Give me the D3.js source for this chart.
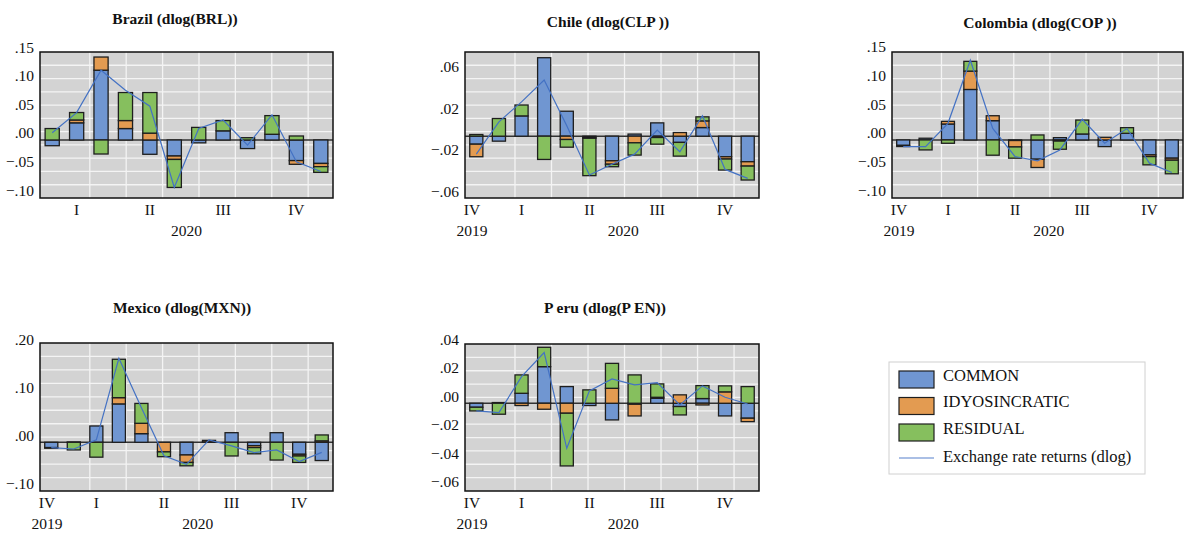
<!DOCTYPE html>
<html>
<head>
<meta charset="utf-8">
<script src="https://cdn.jsdelivr.net/npm/d3@7"></script>
<style>
  body { margin: 0; background: #fff; }
  svg { display: block; }
  text { font-family: "Liberation Serif", "DejaVu Serif", serif; fill: #111; }
</style>
</head>
<body>
<div id="chart"></div>
<script>
// monthly observations
const months13 = ["2019M11","2019M12","2020M01","2020M02","2020M03","2020M04","2020M05",
                  "2020M06","2020M07","2020M08","2020M09","2020M10","2020M11"]
const months12 = months13.slice(1)

// quarter / year labels (index = observation)
const qLabels12 = [["I",1],["II",4],["III",7],["IV",10]]
const qLabels13 = [["IV",0],["I",2],["II",5],["III",8],["IV",11]]
const yLabels12 = [["2020",0,11]]
const yLabels13 = [["2019",0,0],["2020",1,12]]

// decomposition of dlog exchange rate
const brlCommon = [-0.010, 0.030, 0.122, 0.020, -0.025, -0.028, -0.005, 0.016, -0.015, 0.010, -0.036, -0.041]
const brlIdio   = [0, 0.005, 0.023, 0.014, 0.012, -0.006, 0, 0, 0, 0, -0.0065, -0.0056]
const brlResid  = [0.020, 0.013, -0.0245, 0.049, 0.071, -0.049, 0.022, 0.018, 0.004, 0.0326, 0.007, -0.010]
const brlLine   = [0.0128, 0.0478, 0.122, 0.087, 0.059, -0.083, 0.020, 0.035, -0.009, 0.044, -0.038, -0.055]

const clpCommon = [-0.0077, -0.0048, 0.0195, 0.0755, 0.024, -0.001, -0.0237, 0.002, 0.0128, -0.006, 0.0083, -0.0198, -0.0246]
const clpIdio   = [-0.0121, 0, 0, 0, -0.0032, -0.001, -0.0033, -0.0064, -0.0013, 0.0035, 0.0064, -0.0022, -0.0042]
const clpResid  = [0.0016, 0.017, 0.0105, -0.0224, -0.0074, -0.036, -0.0024, -0.0118, -0.0064, -0.0132, 0.0039, -0.0106, -0.0134]
const clpLine   = [-0.0173, 0.0138, 0.033, 0.054, 0.010, -0.0374, -0.027, -0.0173, 0.0058, -0.015, 0.0195, -0.032, -0.0406]

const copCommon = [-0.0095, 0.003, 0.0278, 0.088, 0.0336, -0.001, -0.0336, 0.004, 0.0104, -0.0116, 0.0116, -0.026, -0.0318]
const copIdio   = [-0.002, 0, 0.0046, 0.032, 0.0086, -0.0112, -0.0144, -0.002, 0, 0.0046, 0, -0.003, -0.0035]
const copResid  = [0, -0.0174, -0.0058, 0.017, -0.0266, -0.0196, 0.0087, -0.0142, 0.0243, 0, 0.0098, -0.0144, -0.0237]
const copLine   = [-0.0116, -0.0116, 0.029, 0.139, 0.020, -0.029, -0.0365, -0.0174, 0.036, -0.0058, 0.020, -0.0405, -0.0567]

const mxnCommon = [-0.011, 0.0005, 0.034, 0.080, 0.018, 0, -0.0264, 0.001, 0.020, -0.007, 0.020, -0.025, -0.038]
const mxnIdio   = [-0.0014, 0, 0, 0.013, 0.0216, -0.020, -0.0156, 0.003, 0, -0.004, 0, -0.0035, 0.003]
const mxnResid  = [0, -0.016, -0.031, 0.080, 0.0414, -0.010, -0.007, 0, -0.0285, -0.013, -0.037, -0.0135, 0.0123]
const mxnLine   = [-0.011, -0.014, 0.005, 0.175, 0.072, -0.028, -0.046, 0.005, -0.0076, -0.0215, -0.016, -0.040, -0.021]

const penCommon = [-0.0028, 0.0005, 0.007, 0.0257, 0.0117, -0.0016, -0.0117, -0.0007, 0.0035, -0.0023, 0.0033, -0.0089, -0.0105]
const penIdio   = [0, 0, -0.0016, -0.0042, -0.007, 0, 0.0105, -0.0082, 0.0007, 0.0059, -0.0012, 0.008, -0.0024]
const penResid  = [-0.0026, -0.0077, 0.0129, 0.0136, -0.037, 0.0094, 0.0175, 0.0199, 0.0094, -0.0059, 0.0091, 0.0042, 0.0117]
const penLine   = [-0.0054, -0.0066, 0.0187, 0.0356, -0.0316, 0.0087, 0.0171, 0.0129, 0.0145, -0.0012, 0.0122, 0.0042, -0.0005]

// y tick labels
const ticksBRL = [0.15, 0.10, 0.05, 0.00, -0.05, -0.10]
const ticksCLP = [0.06, 0.02, -0.02, -0.06]
const ticksCOP = [0.15, 0.10, 0.05, 0.00, -0.05, -0.10]
const ticksMXN = [0.20, 0.10, 0.00, -0.10]
const ticksPEN = [0.04, 0.02, 0.00, -0.02, -0.04, -0.06]

const legendNames = ["COMMON", "IDYOSINCRATIC", "RESIDUAL"]
const lineName = "Exchange rate returns (dlog)"

const keys = ["common", "idio", "resid"]
const colors = { common: "#7096d1", idio: "#e39b51", resid: "#86bf5e" }

const panels = [
    { title: "Brazil (dlog(BRL))", months: months12, common: brlCommon, idio: brlIdio, resid: brlResid, line: brlLine,
      ticks: ticksBRL, q: qLabels12, yr: yLabels12,
      left: 40, right: 333, top: 52, bottom: 198, domain: [-0.1014, 0.1538], tx: 175, ty: 18 },
    { title: "Chile (dlog(CLP ))", months: months13, common: clpCommon, idio: clpIdio, resid: clpResid, line: clpLine,
      ticks: ticksCLP, q: qLabels13, yr: yLabels13,
      left: 465, right: 759, top: 52, bottom: 198, domain: [-0.0595, 0.081], tx: 608, ty: 21 },
    { title: "Colombia (dlog(COP ))", months: months13, common: copCommon, idio: copIdio, resid: copResid, line: copLine,
      ticks: ticksCOP, q: qLabels13, yr: yLabels13,
      left: 892, right: 1183, top: 52, bottom: 198, domain: [-0.1012, 0.1533], tx: 1040, ty: 22 },
    { title: "Mexico (dlog(MXN))", months: months13, common: mxnCommon, idio: mxnIdio, resid: mxnResid, line: mxnLine,
      ticks: ticksMXN, q: qLabels13, yr: yLabels13,
      left: 40, right: 333, top: 343, bottom: 491, domain: [-0.1015, 0.2069], tx: 182, ty: 307 },
    { title: "P eru (dlog(P EN))", months: months13, common: penCommon, idio: penIdio, resid: penResid, line: penLine,
      ticks: ticksPEN, q: qLabels13, yr: yLabels13,
      left: 465, right: 759, top: 344, bottom: 491, domain: [-0.0616, 0.0416], tx: 605, ty: 307 }
]

const width = 1184
const height = 535

const svg = d3.select("#chart")
    .append("svg")
    .attr("width", width)
    .attr("height", height)

const fmt = v => d3.format(".2f")(v).replace("0.", ".")

panels.forEach(p => {
    const g = svg.append("g")
    const w = p.right - p.left
    const h = p.bottom - p.top

    const x = d3.scaleBand()
        .domain(p.months)
        .range([p.left, p.right])
        .paddingInner(0.42)
        .paddingOuter(0.21)

    const y = d3.scaleLinear()
        .domain(p.domain)
        .range([p.bottom, p.top])

    const rows = p.months.map((m, i) => ({ month: m, common: p.common[i], idio: p.idio[i], resid: p.resid[i] }))
    const series = d3.stack().keys(keys).offset(d3.stackOffsetDiverging)(rows)

    // background
    g.append("rect")
        .attr("x", p.left).attr("y", p.top)
        .attr("width", w).attr("height", h)
        .attr("fill", "#d3d3d3")

    // grid
    const gy = d3.range(1, 11).map(k => p.top + k * h / 11)
    g.selectAll(".hg").data(gy).enter().append("line")
        .attr("x1", p.left).attr("x2", p.right)
        .attr("y1", d => d).attr("y2", d => d)
        .attr("stroke", "#f4f4f4").attr("stroke-width", 1.3)
    const gx = d3.range(7).map(k => p.left + w * (0.17 + 0.1242 * k))
    g.selectAll(".vg").data(gx).enter().append("line")
        .attr("y1", p.top).attr("y2", p.bottom)
        .attr("x1", d => d).attr("x2", d => d)
        .attr("stroke", "#f4f4f4").attr("stroke-width", 1.3)

    // zero line
    g.append("line")
        .attr("x1", p.left).attr("x2", p.right)
        .attr("y1", y(0)).attr("y2", y(0))
        .attr("stroke", "#333").attr("stroke-width", 1.5)

    // stacked bars
    series.forEach(s => {
        g.selectAll(null).data(s).enter().append("rect")
            .attr("x", d => x(d.data.month))
            .attr("width", x.bandwidth())
            .attr("y", d => y(Math.max(d[0], d[1])))
            .attr("height", d => Math.abs(y(d[0]) - y(d[1])))
            .attr("fill", colors[s.key])
            .attr("stroke", "#1e1e1e")
            .attr("stroke-width", 1.3)
    })

    // exchange rate returns line
    const line = d3.line()
        .x((d, i) => x(p.months[i]) + x.bandwidth() / 2)
        .y(d => y(d))
    g.append("path")
        .attr("d", line(p.line))
        .attr("fill", "none")
        .attr("stroke", "#4472c4")
        .attr("stroke-width", 1.2)

    // frame
    g.append("rect")
        .attr("x", p.left).attr("y", p.top)
        .attr("width", w).attr("height", h)
        .attr("fill", "none")
        .attr("stroke", "#111").attr("stroke-width", 1.5)

    // y labels (drawn slightly above their values, as in the source)
    g.selectAll(".yt").data(p.ticks).enter().append("text")
        .attr("x", p.left - 6)
        .attr("y", d => y(d) - 7)
        .attr("text-anchor", "end")
        .attr("dominant-baseline", "central")
        .style("font-size", "15.5px")
        .text(fmt)

    // quarter labels
    const qx = d => d[1] === 0 ? p.left + 7 : x(p.months[d[1]]) + x.bandwidth() / 2
    g.selectAll(".ql").data(p.q).enter().append("text")
        .attr("x", qx)
        .attr("y", p.bottom + 11)
        .attr("text-anchor", "middle")
        .attr("dominant-baseline", "central")
        .style("font-size", "15.5px")
        .text(d => d[0])

    // year labels
    g.selectAll(".yl").data(p.yr).enter().append("text")
        .attr("x", d => d[1] === 0 && d[2] === 0 ? p.left + 7
            : (x(p.months[d[1]]) + x(p.months[d[2]]) + x.bandwidth()) / 2)
        .attr("y", p.bottom + 32)
        .attr("text-anchor", "middle")
        .attr("dominant-baseline", "central")
        .style("font-size", "15.5px")
        .text(d => d[0])

    // title
    g.append("text")
        .attr("x", p.tx).attr("y", p.ty)
        .attr("text-anchor", "middle")
        .attr("dominant-baseline", "central")
        .style("font-size", "15.5px")
        .style("font-weight", "bold")
        .text(p.title)
})

// legend
const legend = svg.append("g")
legend.append("rect")
    .attr("x", 889).attr("y", 362)
    .attr("width", 256).attr("height", 112)
    .attr("fill", "#fff")
    .attr("stroke", "#d0d0d0")

legendNames.forEach((name, i) => {
    legend.append("rect")
        .attr("x", 899).attr("y", 371 + i * 26.5)
        .attr("width", 35).attr("height", 17)
        .attr("fill", colors[keys[i]])
        .attr("stroke", "#1e1e1e").attr("stroke-width", 1.2)
    legend.append("text")
        .attr("x", 943).attr("y", 375 + i * 26.5)
        .attr("dominant-baseline", "central")
        .style("font-size", "16.5px")
        .text(name)
})
legend.append("line")
    .attr("x1", 899).attr("x2", 934)
    .attr("y1", 458).attr("y2", 458)
    .attr("stroke", "#8eaadc").attr("stroke-width", 1.6)
legend.append("text")
    .attr("x", 943).attr("y", 456)
    .attr("dominant-baseline", "central")
    .style("font-size", "16.5px")
    .text(lineName)
</script>
</body>
</html>
